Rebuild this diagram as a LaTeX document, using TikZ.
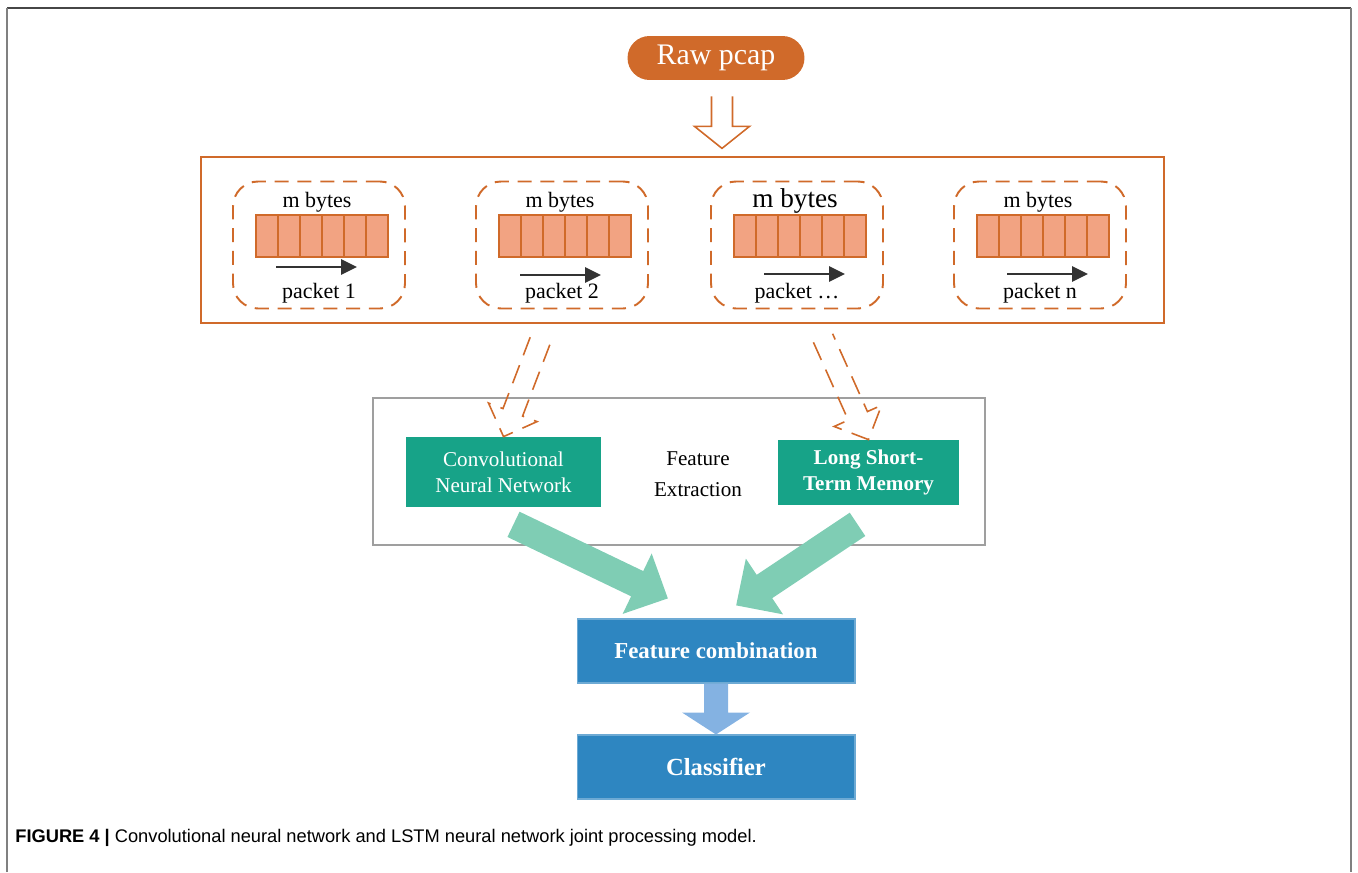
\documentclass[tikz,border=0pt]{standalone}
\usepackage{fontspec}
\setmainfont{Liberation Serif}
\newfontfamily\capfont{Liberation Sans}
\usetikzlibrary{calc,arrows.meta}

\definecolor{rawor}{RGB}{208,106,42}
\definecolor{bytefill}{RGB}{242,163,130}
\definecolor{nnteal}{RGB}{23,163,136}
\definecolor{mint}{RGB}{127,205,180}
\definecolor{boxblue}{RGB}{46,134,193}
\definecolor{lightarr}{RGB}{132,178,226}

\newcommand\hollowarrow[6][]{%
  \path let \p1=($(#3)-(#2)$) in \pgfextra{%
    \pgfmathparse{atan2(\y1,\x1)}\xdef\harang{\pgfmathresult}%
    \pgfmathparse{veclen(\x1,\y1)/0.569055}\xdef\harlen{\pgfmathresult}};
  \begin{scope}[shift={(#2)},rotate=\harang]
    \draw[#1] (0,#4) -- (\harlen-#6,#4) -- (\harlen-#6,#5) -- (\harlen,0)
      -- (\harlen-#6,-#5) -- (\harlen-#6,-#4) -- (0,-#4);
  \end{scope}}

\begin{document}
\begin{tikzpicture}[
  x=0.02cm,y=-0.02cm,
  pill/.style={rounded corners=0.44cm,fill=rawor,text=white,minimum width=3.54cm,minimum height=0.88cm,font=\fontsize{17}{19}\selectfont},
  pbox/.style={draw=rawor,dash pattern=on 8pt off 5pt,line width=1.1pt,rounded corners=0.5cm,minimum width=3.44cm,minimum height=2.54cm},
  bytecell/.style={draw=rawor,fill=bytefill,line width=1pt,minimum width=0.44cm,minimum height=0.84cm,inner sep=0pt},
  lbl/.style={anchor=base,inner sep=0pt,font=\fontsize{12.5}{14}\selectfont},
  flowarrow/.style={draw=black!80,line width=1.4pt,-{Triangle[length=9pt,width=8.5pt]}},
  tbox/.style={fill=nnteal,text=white,align=center,font=\fontsize{12}{14.8}\selectfont},
  bbox/.style={fill=boxblue,draw=boxblue!70!white,line width=0.6pt,text=white,minimum width=5.56cm,minimum height=1.28cm,font=\bfseries\fontsize{13}{15}\selectfont},
  hollow/.style={draw=rawor,line width=0.9pt,line join=miter},
  dashhollow/.style={hollow,dash pattern=on 11pt off 6pt}
]
\useasboundingbox (0,0) rectangle (1358,872);
\draw[gray!55!black,line width=1.1pt] (7,8) -- (1351,8);
\draw[gray,line width=1.1pt] (7,872) -- (7,8) (1351,8) -- (1351,872);

\node[pill] (raw) at (716,58) {Raw pcap};
\coordinate (a0) at ($(raw.south)+(6,16)$);
\coordinate (a1) at ($(raw.south)+(6,68)$);
\hollowarrow[hollow]{a0}{a1}{10.5}{27.5}{22}

\node[draw=rawor,line width=1.2pt,minimum width=19.26cm,minimum height=3.32cm] (frame) at (682.5,240) {};
\foreach \i/\x/\lab/\ax/\ay/\fs in {1/319/1/-2/267/12.5, 2/562/2/-1/275/12.5, 3/797/{\ldots}/8/274/15.5, 4/1040/n/8/274/12.5}{
  \node[pbox] (p\i) at (\x,245) {};
  \foreach \k in {0,...,5}
    \node[bytecell] (c\i\k) at ({\x-52+\k*22},236) {};
  \node[lbl,font=\fontsize{\fs}{14}\selectfont] (m\i) at (\x-2,207) {m bytes};
  \node[lbl] (k\i) at (\x,298) {packet \lab};
  \coordinate (l\i) at (\x+\ax-41,\ay);
  \coordinate (r\i) at (\x+\ax+40,\ay);
  \draw[flowarrow] (l\i) -- (r\i);
}

\node[draw=gray!75,line width=1.2pt,minimum width=12.24cm,minimum height=2.94cm] (fx) at (679,471.5) {};
\node[tbox,minimum width=3.9cm,minimum height=1.4cm] (cnn) at (503.5,472) {Convolutional\\Neural Network};
\node[tbox,minimum width=3.62cm,minimum height=1.3cm,font=\bfseries\fontsize{12}{14.5}\selectfont] (lstm) at (868.5,472.5) {Long Short-\\Term Memory};
\node[align=center,font=\fontsize{12}{17.6}\selectfont] (fe) at (698,474) {Feature\\Extraction};

\coordinate (d1) at (540,341);
\coordinate (d2) at (823,338);
\hollowarrow[dashhollow]{d1}{cnn.north}{10.5}{26}{26}
\hollowarrow[dashhollow]{d2}{lstm.north}{10.5}{26}{26}

\node[bbox] (comb) at (716,651) {Feature combination};
\node[bbox,font=\bfseries\fontsize{14}{16}\selectfont] (cls) at (716,767) {Classifier};

\coordinate (g1) at ($(cnn.south)+(10,17)$);
\coordinate (g2) at ($(comb.north)+(-48,-20)$);
\coordinate (g3) at ($(lstm.south)+(-11,19)$);
\coordinate (g4) at ($(comb.north)+(20,-13)$);
\hollowarrow[fill=mint,draw=none]{g1}{g2}{14}{33.5}{34}
\hollowarrow[fill=mint,draw=none]{g3}{g4}{14}{33.5}{34}
\hollowarrow[fill=lightarr,draw=none]{comb.south}{cls.north}{12}{34}{22}

\node[anchor=base west,inner sep=0pt,font=\capfont\fontsize{10.4}{12}\selectfont] (cap) at (15,842)
  {\textbf{FIGURE 4 |} Convolutional neural network and LSTM neural network joint processing model.};
\end{tikzpicture}
\end{document}
